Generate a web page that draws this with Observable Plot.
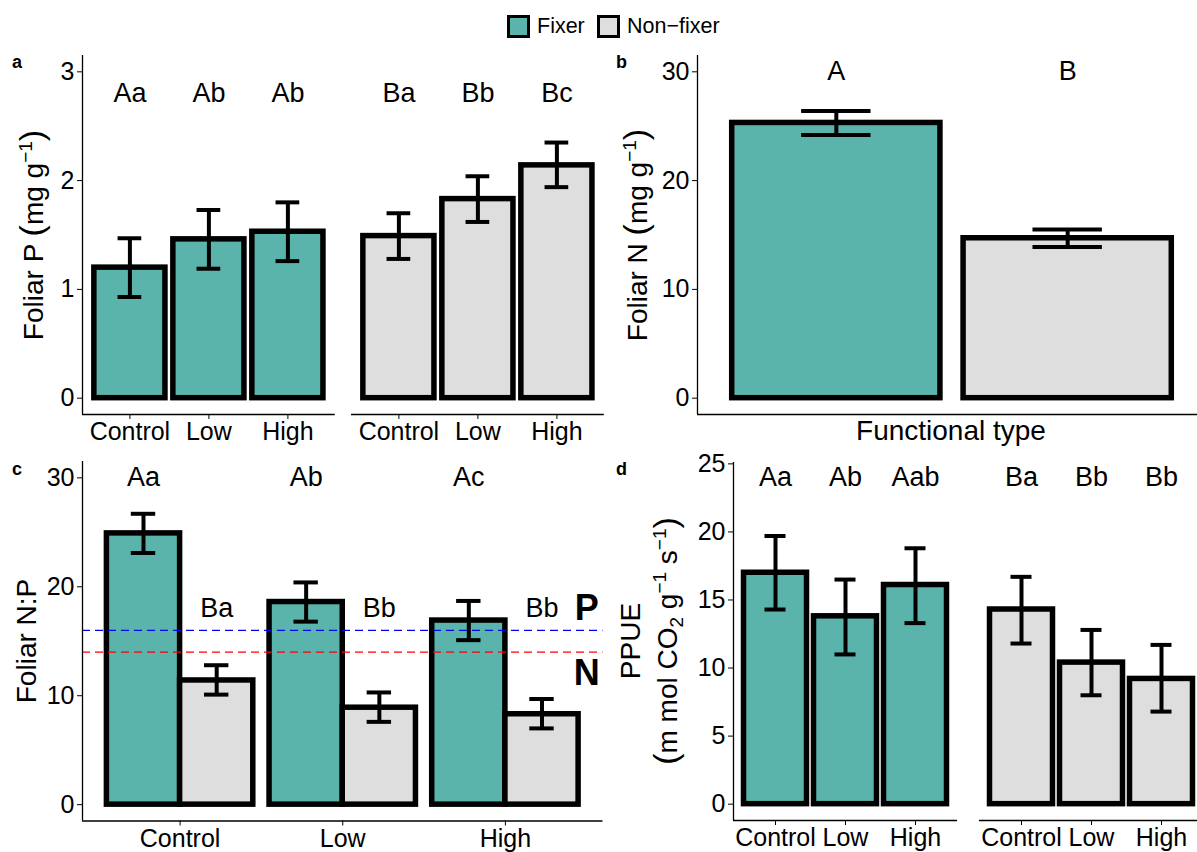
<!DOCTYPE html>
<html>
<head>
<meta charset="utf-8">
<script src="https://cdn.jsdelivr.net/npm/d3@7"></script>
<script src="https://cdn.jsdelivr.net/npm/@observablehq/plot@0.6"></script>
<style>
  html, body { margin: 0; padding: 0; background: #fff; }
  #fig { position: relative; width: 1197px; height: 852px; overflow: hidden; background: #fff;
         font-family: "Liberation Sans", Arial, Helvetica, sans-serif; color: #000; }
  .abs { position: absolute; }
  .abs svg { display: block; max-width: none !important; }
  .legend-item { position: absolute; display: flex; align-items: center; font-size: 21.5px; white-space: nowrap; }
  .swatch { width: 17px; height: 17px; border: 3px solid #000; margin-right: 7px; }
</style>
</head>
<body>
<div id="fig"></div>
<script>
// ---------------- data ----------------
const treatments = ["Control", "Low", "High"];
const types = ["Fixer", "Non\u2212fixer"];

// Panel a: foliar P (mg g-1)
const pFixMean = [1.20, 1.46, 1.53];
const pFixLo   = [0.93, 1.19, 1.26];
const pFixHi   = [1.47, 1.73, 1.80];
const pFixLetters = ["Aa", "Ab", "Ab"];
const pNonMean = [1.49, 1.83, 2.14];
const pNonLo   = [1.28, 1.62, 1.94];
const pNonHi   = [1.70, 2.04, 2.35];
const pNonLetters = ["Ba", "Bb", "Bc"];
const pTicks = [0, 1, 2, 3];

// Panel b: foliar N (mg g-1) by functional type
const nMean = [25.3, 14.7];
const nLo   = [24.2, 13.9];
const nHi   = [26.4, 15.5];
const nLetters = ["A", "B"];
const nTicks = [0, 10, 20, 30];

// Panel c: foliar N:P
const npFixMean = [24.9, 18.6, 16.9];
const npFixLo   = [23.1, 16.8, 15.1];
const npFixHi   = [26.7, 20.4, 18.7];
const npFixLetters = ["Aa", "Ab", "Ac"];
const npNonMean = [11.4, 8.9, 8.3];
const npNonLo   = [10.1, 7.6, 7.0];
const npNonHi   = [12.8, 10.3, 9.7];
const npNonLetters = ["Ba", "Bb", "Bb"];
const npThresholds = [16, 14];
const npThresholdLabels = ["P", "N"];
const npTicks = [0, 10, 20, 30];

// Panel d: PPUE
const dFixMean = [17.0, 13.8, 16.1];
const dFixLo   = [14.3, 11.0, 13.3];
const dFixHi   = [19.7, 16.5, 18.8];
const dFixLetters = ["Aa", "Ab", "Aab"];
const dNonMean = [14.3, 10.4, 9.2];
const dNonLo   = [11.8, 8.0, 6.8];
const dNonHi   = [16.7, 12.8, 11.7];
const dNonLetters = ["Ba", "Bb", "Bb"];
const dTicks = [0, 5, 10, 15, 20, 25];

// ---------------- styles ----------------
const FILL = {fixer: "#5ab4ac", non: "#dedede"};
const FONT = '"Liberation Sans", Arial, Helvetica, sans-serif';
const fig = document.getElementById("fig");

function rows(means, lo, hi, letters, offset, labelY) {
  return means.map((m, i) => ({pos: i + 1 + offset, mean: m, lo: lo[i], hi: hi[i], letter: letters[i], ly: labelY}));
}

function place(node, left, top, w, h) {
  const d = document.createElement("div");
  d.className = "abs";
  d.style.left = left + "px";
  d.style.top = top + "px";
  d.style.width = w + "px";
  d.style.height = h + "px";
  node.style.maxWidth = "none";
  node.style.width = w + "px";
  node.style.height = h + "px";
  d.appendChild(node);
  fig.appendChild(d);
}

function panel(cfg) {
  const ML = cfg.showY ? 70 : 10, MR = 10, MT = 10, MB = 45;
  const W = cfg.x1 - cfg.x0, H = cfg.y1 - cfg.y0;
  const marks = [];
  for (const g of cfg.groups) {
    marks.push(Plot.rect(g.rows, {
      x1: d => d.pos - cfg.barHalf, x2: d => d.pos + cfg.barHalf,
      y1: d => 0, y2: "mean", fill: g.fill, stroke: "black", strokeWidth: 5.5
    }));
  }
  if (cfg.beforeErr) marks.push(...cfg.beforeErr);
  for (const g of cfg.groups) {
    marks.push(
      Plot.ruleX(g.rows, {x: "pos", y1: "lo", y2: "hi", stroke: "black", strokeWidth: 4}),
      Plot.ruleY(g.rows, {y: "lo", x1: d => d.pos - cfg.capHalf, x2: d => d.pos + cfg.capHalf, stroke: "black", strokeWidth: 4}),
      Plot.ruleY(g.rows, {y: "hi", x1: d => d.pos - cfg.capHalf, x2: d => d.pos + cfg.capHalf, stroke: "black", strokeWidth: 4}),
      Plot.text(g.rows, {x: "pos", y: "ly", text: "letter", fontSize: 27, lineAnchor: "middle", fill: "black"})
    );
  }
  if (cfg.after) marks.push(...cfg.after);
  marks.push(Plot.ruleY([cfg.yDomain[0]], {stroke: "black", strokeWidth: 1.3}));
  if (cfg.showY) marks.push(Plot.ruleX([cfg.xDomain[0]], {stroke: "black", strokeWidth: 1.3}));

  const width = W + ML + MR, height = H + MT + MB;
  const svg = Plot.plot({
    width, height,
    marginLeft: ML, marginRight: MR, marginTop: MT, marginBottom: MB,
    style: {fontFamily: FONT, fontSize: "25px", color: "black", background: "none", overflow: "visible"},
    x: cfg.xTicks
      ? {domain: cfg.xDomain, ticks: cfg.xTicks, tickFormat: cfg.xTickFormat, tickSize: 5, tickPadding: 3, label: null, axis: "bottom"}
      : {domain: cfg.xDomain, axis: null},
    y: cfg.showY
      ? {domain: cfg.yDomain, ticks: cfg.yTicks, tickFormat: d => String(d), tickSize: 5, tickPadding: 3, label: null, axis: "left"}
      : {domain: cfg.yDomain, axis: null},
    marks
  });
  place(svg, cfg.x0 - ML, cfg.y0 - MT, width, height);
}

const tf = i => treatments[i - 1];

// Panel a
panel({x0: 81.7, x1: 334.5, y0: 55, y1: 414, xDomain: [0.4, 3.6], yDomain: [-0.15, 3.15],
  yTicks: pTicks, showY: true, xTicks: [1, 2, 3], xTickFormat: tf, barHalf: 0.45, capHalf: 0.15,
  groups: [{rows: rows(pFixMean, pFixLo, pFixHi, pFixLetters, 0, 2.8), fill: FILL.fixer}]});
panel({x0: 350.5, x1: 603.3, y0: 55, y1: 414, xDomain: [0.4, 3.6], yDomain: [-0.15, 3.15],
  showY: false, xTicks: [1, 2, 3], xTickFormat: tf, barHalf: 0.45, capHalf: 0.15,
  groups: [{rows: rows(pNonMean, pNonLo, pNonHi, pNonLetters, 0, 2.8), fill: FILL.non}]});

// Panel b
panel({x0: 697, x1: 1206, y0: 55, y1: 414, xDomain: [0.4, 2.6], yDomain: [-1.5, 31.5],
  yTicks: nTicks, showY: true, xTicks: null, barHalf: 0.45, capHalf: 0.15,
  groups: [
    {rows: rows([nMean[0]], [nLo[0]], [nHi[0]], [nLetters[0]], 0, 30), fill: FILL.fixer},
    {rows: rows([nMean[1]], [nLo[1]], [nHi[1]], [nLetters[1]], 1, 30), fill: FILL.non}
  ]});

// Panel c
const thrColor = ["blue", "red"];
const thrLabelY = [18, 12];
panel({x0: 81.5, x1: 602, y0: 460.5, y1: 820, xDomain: [0.4, 3.6], yDomain: [-1.5, 31.5],
  yTicks: npTicks, showY: true, xTicks: [1, 2, 3], xTickFormat: tf, barHalf: 0.225, capHalf: 0.075,
  groups: [
    {rows: rows(npFixMean, npFixLo, npFixHi, npFixLetters, -0.225, 30), fill: FILL.fixer},
    {rows: rows(npNonMean, npNonLo, npNonHi, npNonLetters, 0.225, 18), fill: FILL.non}
  ],
  beforeErr: npThresholds.map((t, i) => Plot.ruleY([t], {stroke: thrColor[i], strokeWidth: 1.4, strokeDasharray: "8,5"})),
  after: [Plot.text(npThresholdLabels.map((l, i) => ({l, y: thrLabelY[i]})),
    {x: d => 3.5, y: "y", text: "l", fontSize: 36, fontWeight: "bold", lineAnchor: "middle", fill: "black"})]
});

// Panel d
panel({x0: 732.7, x1: 956.7, y0: 462, y1: 820, xDomain: [0.4, 3.6], yDomain: [-1.2, 25.1],
  yTicks: dTicks, showY: true, xTicks: [1, 2, 3], xTickFormat: tf, barHalf: 0.45, capHalf: 0.15,
  groups: [{rows: rows(dFixMean, dFixLo, dFixHi, dFixLetters, 0, 24), fill: FILL.fixer}]});
panel({x0: 979, x1: 1203, y0: 462, y1: 820, xDomain: [0.4, 3.6], yDomain: [-1.2, 25.1],
  showY: false, xTicks: [1, 2, 3], xTickFormat: tf, barHalf: 0.45, capHalf: 0.15,
  groups: [{rows: rows(dNonMean, dNonLo, dNonHi, dNonLetters, 0, 24), fill: FILL.non}]});

// ---------------- annotations: axis titles, panel tags ----------------
const ns = "http://www.w3.org/2000/svg";
const ann = document.createElementNS(ns, "svg");
ann.setAttribute("width", 1197);
ann.setAttribute("height", 852);
ann.setAttribute("style", "position:absolute;left:0;top:0;pointer-events:none;font-family:" + FONT);
ann.innerHTML = `
  <g font-size="28" fill="black">
    <text transform="translate(43,235) rotate(-90)" text-anchor="middle">Foliar P <tspan font-size="34">(</tspan>mg g<tspan font-size="19" dy="-11">\u22121</tspan><tspan font-size="34" dy="11">)</tspan></text>
    <text transform="translate(647,235) rotate(-90)" text-anchor="middle">Foliar N <tspan font-size="34">(</tspan>mg g<tspan font-size="19" dy="-11">\u22121</tspan><tspan font-size="34" dy="11">)</tspan></text>
    <text x="951" y="440" text-anchor="middle">Functional type</text>
    <text transform="translate(36,641) rotate(-90)" text-anchor="middle">Foliar N:P</text>
    <text transform="translate(640,641) rotate(-90)" text-anchor="middle">PPUE</text>
    <text transform="translate(677,641) rotate(-90)" text-anchor="middle"><tspan font-size="34">(</tspan>m mol CO<tspan font-size="19" dy="6">2</tspan><tspan dy="-6"> g</tspan><tspan font-size="19" dy="-11">\u22121</tspan><tspan dy="11"> s</tspan><tspan font-size="19" dy="-11">\u22121</tspan><tspan font-size="34" dy="11">)</tspan></text>
  </g>
  <g font-size="18" font-weight="bold" fill="black">
    <text x="12" y="68">a</text>
    <text x="616" y="68">b</text>
    <text x="12" y="475">c</text>
    <text x="616" y="475">d</text>
  </g>`;
fig.appendChild(ann);

// ---------------- legend ----------------
const legendFill = [FILL.fixer, FILL.non];
const legendLeft = [507, 597];
types.forEach((t, i) => {
  const item = document.createElement("div");
  item.className = "legend-item";
  item.style.left = legendLeft[i] + "px";
  item.style.top = "14px";
  item.style.height = "24px";
  const sw = document.createElement("div");
  sw.className = "swatch";
  sw.style.background = legendFill[i];
  const label = document.createElement("span");
  label.textContent = t;
  item.appendChild(sw);
  item.appendChild(label);
  fig.appendChild(item);
});
</script>
</body>
</html>
